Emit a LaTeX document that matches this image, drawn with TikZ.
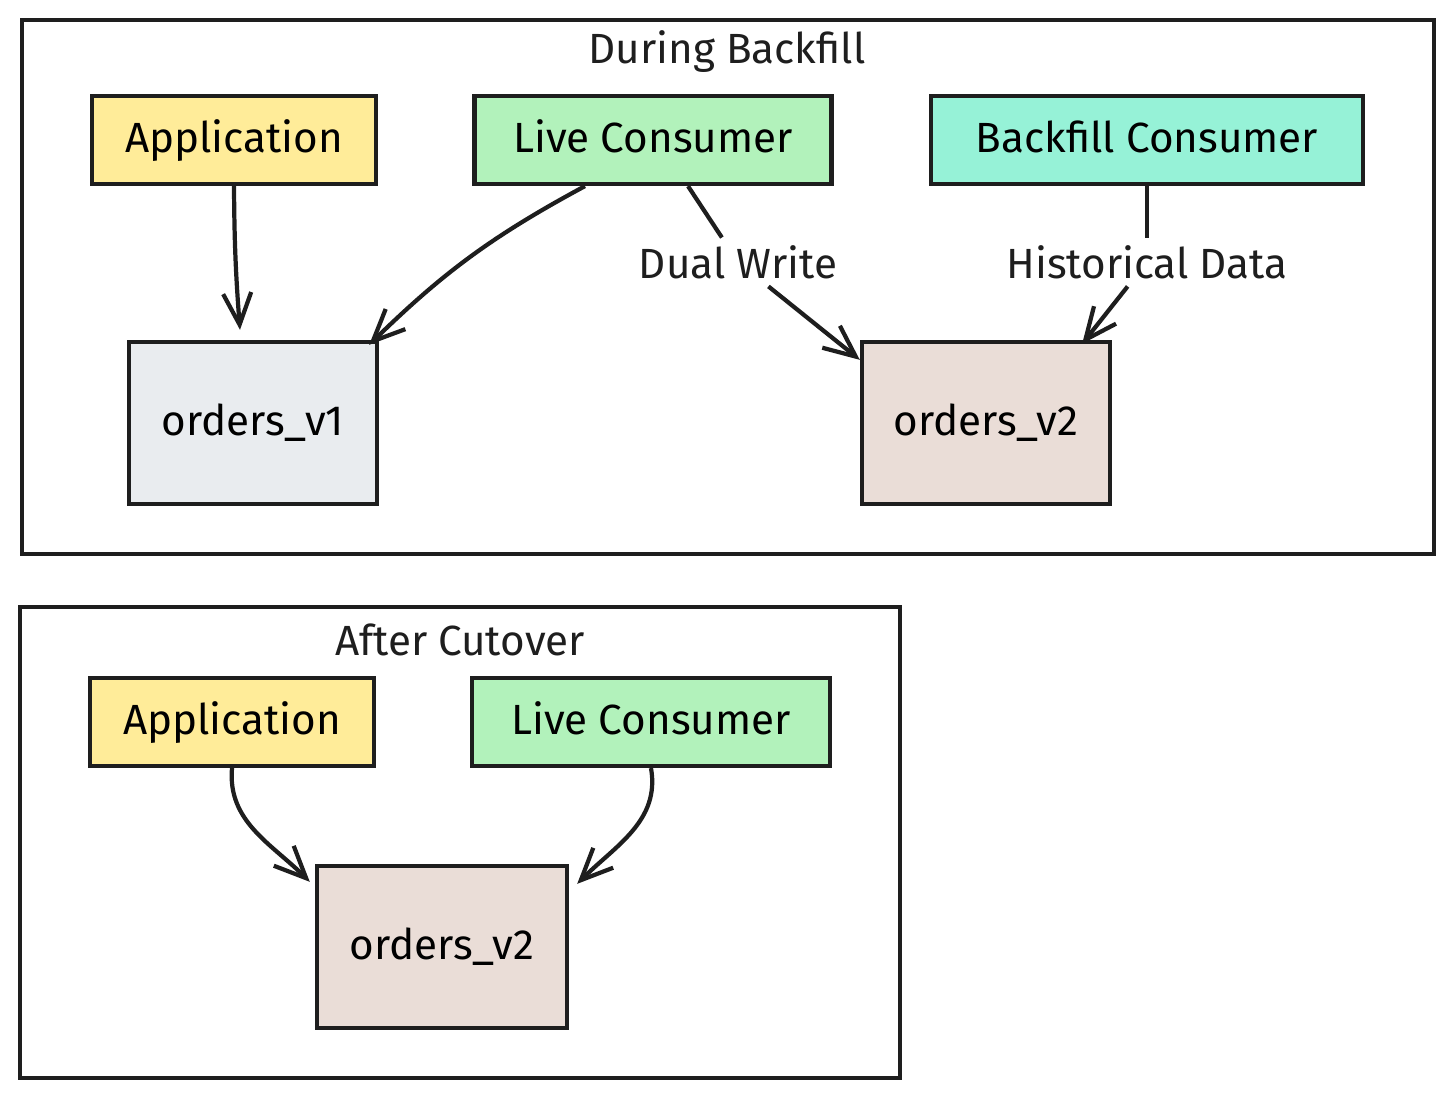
\documentclass[tikz,border=0pt]{standalone}
\usepackage{fontspec}
\setmainfont{Fira Sans}
\usepackage{xcolor}
\usepackage{tikz}
\usetikzlibrary{arrows.meta}

\definecolor{ink}{HTML}{1E1E1E}
\definecolor{appfill}{HTML}{FFEC99}
\definecolor{livefill}{HTML}{B2F2BB}
\definecolor{bffill}{HTML}{96F2D7}
\definecolor{vonefill}{HTML}{E9ECEF}
\definecolor{vtwofill}{HTML}{EADDD7}

\begin{document}
\begin{tikzpicture}[x=0.01cm, y=0.01cm,
    box/.style={draw=ink, line width=1.2pt, rectangle, inner sep=0pt, text height=0.9em, text depth=0.21em, font=\fontsize{12}{14}\selectfont},
    tbl/.style={box, minimum width=2.48cm, minimum height=1.62cm},
    lbl/.style={fill=white, inner sep=2pt, font=\fontsize{12}{14}\selectfont, text=ink},
    ttl/.style={font=\fontsize{12}{14}\selectfont, text=ink},
    frame/.style={draw=ink, line width=1pt},
    link/.style={draw=ink, line width=1.2pt, -{Straight Barb[length=9pt,width=8pt]}}]
    \useasboundingbox (0,0) rectangle (1453,-1098);

    \draw[frame] (22,-20) rectangle (1434,-554);
    \node[ttl] (during) at (727,-52) {During Backfill};

    \node[box, fill=appfill, minimum width=2.84cm, minimum height=0.88cm] (app) at (234,-140) {Application};
    \node[box, fill=livefill, minimum width=3.57cm, minimum height=0.88cm] (live) at (653,-140) {Live Consumer};
    \node[box, fill=bffill, minimum width=4.32cm, minimum height=0.88cm] (bf) at (1147,-140) {Backfill Consumer};

    \node[tbl, fill=vonefill] (vone) at (253,-423) {orders\_v1};
    \node[tbl, fill=vtwofill] (vtwo) at (986,-423) {orders\_v2};

    \node[lbl] (dual) at (738,-262) {Dual Write};
    \node[lbl] (hist) at (1147,-262) {Historical Data};

    \draw[link] (app.south) to[bend right=2] ([xshift=-0.13cm,yshift=0.1cm]vone.north);
    \draw[link] ([xshift=-0.68cm]live.south) to[bend right=8] ([xshift=-0.1cm,yshift=-0.05cm]vone.north east);
    \draw[ink, line width=1.2pt] ([xshift=0.35cm]live.south) -- (dual);
    \draw[link] (dual) -- ([yshift=-0.2cm]vtwo.north west);
    \draw[ink, line width=1.2pt] (bf.south) -- (hist);
    \draw[link] (hist) -- ([xshift=-0.3cm,yshift=-0.04cm]vtwo.north east);

    \draw[frame] (20,-607) rectangle (900,-1078);
    \node[ttl] (after) at (460,-640) {After Cutover};

    \node[box, fill=appfill, minimum width=2.84cm, minimum height=0.88cm] (apptwo) at (232,-722) {Application};
    \node[box, fill=livefill, minimum width=3.58cm, minimum height=0.88cm] (livetwo) at (651,-722) {Live Consumer};

    \node[tbl, fill=vtwofill, minimum width=2.5cm] (vtwob) at (442,-947) {orders\_v2};

    \draw[link] (apptwo.south) to[out=265, in=135] ([xshift=-0.05cm,yshift=-0.18cm]vtwob.north west);
    \draw[link] (livetwo.south) to[out=280, in=45] ([xshift=0.08cm,yshift=-0.2cm]vtwob.north east);

  \end{tikzpicture}
\end{document}
